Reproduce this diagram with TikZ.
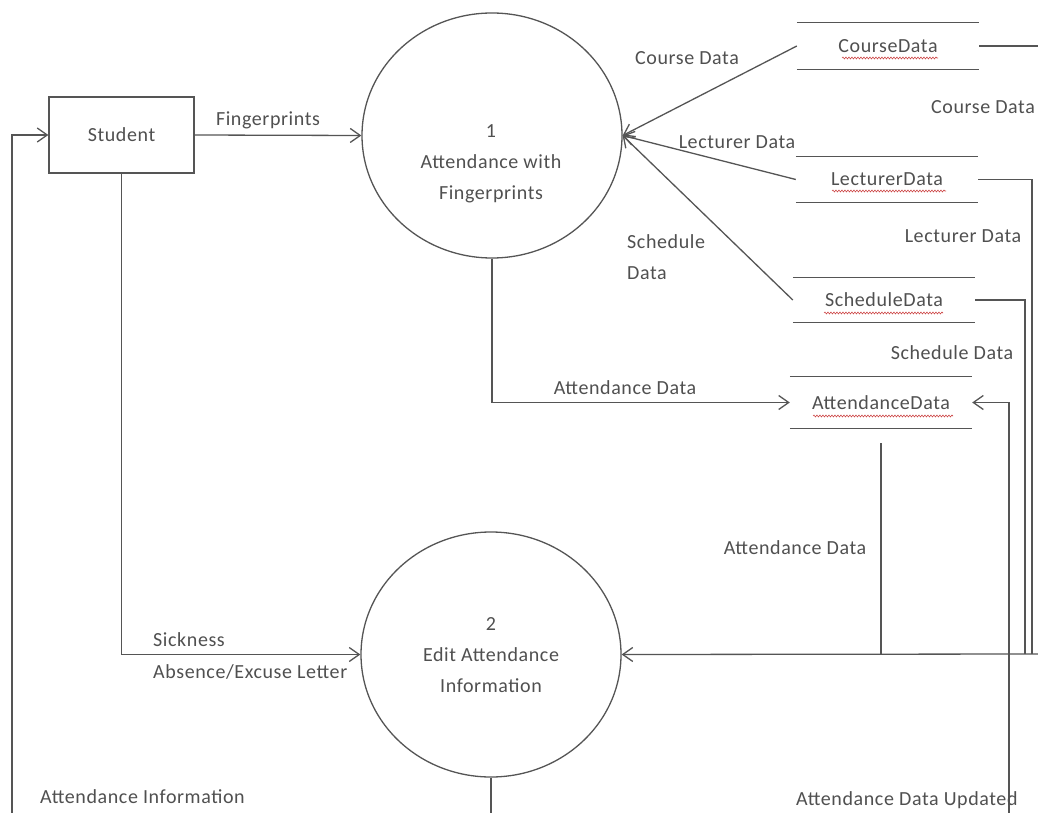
\documentclass[tikz,border=0pt]{standalone}
\usepackage{fontspec}
\setmainfont{Carlito}[LetterSpace=3]
\usetikzlibrary{shapes.geometric,arrows.meta,decorations.pathmorphing}
\definecolor{ink}{RGB}{85,85,85}
\definecolor{txt}{RGB}{80,80,80}
\definecolor{squigred}{RGB}{205,70,70}
\begin{document}
\begin{tikzpicture}[x=1pt,y=-1pt,
  every node/.style={font=\fontsize{20}{31}\selectfont, text=txt},
  line/.style={draw=ink, line width=1.3pt},
  flow/.style={line, -{Straight Barb[length=10pt,width=14pt,line width=1.3pt]}},
  proc/.style={ellipse, draw=ink, line width=1.3pt, minimum width=260pt, minimum height=245pt, inner sep=0pt},
  entity/.style={draw=ink, line width=1.3pt, minimum width=145pt, minimum height=76pt},
  store/.style={minimum width=182pt, inner sep=0pt},
  squig/.style={draw=squigred, line width=0.6pt, decorate, decoration={snake, amplitude=0.9pt, segment length=3pt}},
  lbl/.style={inner sep=0pt}
]
\fill[white] (0,0) rectangle (1038,813);
\useasboundingbox (0,0) rectangle (1038,813);

% entities and processes
\node[entity] (student) at (121.5,135) {Student};
\node[proc] (p1) at (492,135.5) {};
\node[lbl, align=center] (p1t) at (491,164) {1\\Attendance with\\Fingerprints};
\node[proc] (p2) at (491,654.5) {};
\node[lbl, align=center] (p2t) at (491,655) {2\\Edit Attendance\\Information};

% data stores
\node[store, minimum height=46pt] (cd) at (888,46) {CourseData};
\node[store, minimum height=45pt] (ld) at (887,179.5) {LecturerData};
\node[store, minimum height=44pt] (sd) at (884,300) {ScheduleData};
\node[store, minimum height=51pt] (ad) at (881,402.5) {AttendanceData};
\foreach \s in {cd,ld,sd,ad}{
  \draw[line] (\s.north west) -- (\s.north east) (\s.south west) -- (\s.south east);
}
\draw[squig] ([shift={(-46,12)}]cd.center) -- ([shift={(50,12)}]cd.center);
\draw[squig] ([shift={(-55,11.5)}]ld.center) -- ([shift={(59,11.5)}]ld.center);
\draw[squig] ([shift={(-60,13)}]sd.center) -- ([shift={(59,13)}]sd.center);
\draw[squig] ([shift={(-68,13.5)}]ad.center) -- ([shift={(72,13.5)}]ad.center);

% free ends
\coordinate (bl) at (12,813);
\coordinate (b2) at (491,813);
\coordinate (bu) at (1009,813);
\coordinate (ce) at (1038,46);
\coordinate (mj) at (1038,654);
\coordinate (lj) at (1032,654);
\coordinate (sj) at (1025,654);

% connectors
\draw[flow] (bl) |- (student.west);
\draw[flow] (student.east) -- (p1.west);
\draw[flow] (cd.west) -- (p1.east);
\draw[flow] (ld.west) -- (p1.east);
\draw[flow] (sd.west) -- (p1.east);
\draw[flow] (p1.south) |- (ad.west);
\draw[flow] (student.south) |- (p2.west);
\draw[line] (p2.south) -- (b2);
\draw[flow] (bu) |- (ad.east);
\draw[line] (cd.east) -- (ce);
\draw[line] (ld.east) -| (lj);
\draw[line] (sd.east) -| (sj);
\draw[line] ([yshift=-15pt]ad.south) -- (ad.south |- mj);
\draw[flow] (mj) -- (p2.east);

% labels
\node[lbl] (l1) at (268,120) {Fingerprints};
\node[lbl] (l2) at (687,58) {Course Data};
\node[lbl] (l3) at (737,142) {Lecturer Data};
\node[lbl, align=left, anchor=west] (l4) at (627,257) {Schedule\\Data};
\node[lbl] (l5) at (983,107) {Course Data};
\node[lbl] (l6) at (963,236) {Lecturer Data};
\node[lbl] (l7) at (952,353) {Schedule Data};
\node[lbl] (l8) at (625,388) {Attendance Data};
\node[lbl] (l9) at (795,548) {Attendance Data};
\node[lbl, anchor=west] (l10) at (153,640) {Sickness};
\node[lbl, anchor=west] (l11) at (153,672) {Absence/Excuse Letter};
\node[lbl, anchor=west] (l12) at (40,797) {Attendance Information};
\node[lbl, anchor=west] (l13) at (796,800) {Attendance Data Updated};
\end{tikzpicture}
\end{document}
